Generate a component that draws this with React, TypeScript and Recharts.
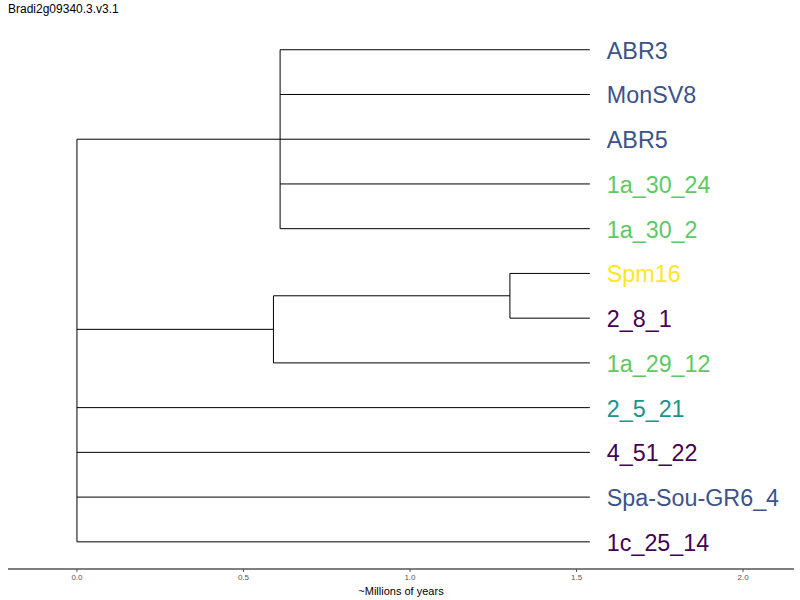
import React from "react";
import { ComposedChart, XAxis, YAxis, ReferenceLine, Scatter } from "recharts";

const leafNames = ["ABR3","MonSV8","ABR5","1a_30_24","1a_30_2","Spm16","2_8_1","1a_29_12","2_5_21","4_51_22","Spa-Sou-GR6_4","1c_25_14"];
const leafColors = ["#3b528b","#3b528b","#3b528b","#5ec962","#5ec962","#fde725","#440154","#5ec962","#21918c","#440154","#3b528b","#440154"];
const leafEnd = 1.54;
const xTicks = [0, 0.5, 1.0, 1.5, 2.0];
type Node = { id: string; x: number; children: (string | number)[] };
const nodes: Node[] = [
  { id: "root", x: 0, children: ["A", "B", 8, 9, 10, 11] },
  { id: "A", x: 0.61, children: [0, 1, 2, 3, 4] },
  { id: "B", x: 0.59, children: ["C", 7] },
  { id: "C", x: 1.3, children: [5, 6] },
];

const byId: Record<string, Node> = {};
nodes.forEach((n) => (byId[n.id] = n));
const yOf = (c: string | number): number =>
  typeof c === "number" ? c : byId[c].children.map(yOf).reduce((a, b) => a + b, 0) / byId[c].children.length;
const xOf = (c: string | number): number => (typeof c === "number" ? leafEnd : byId[c].x);

const segments: { x1: number; y1: number; x2: number; y2: number }[] = [];
nodes.forEach((n) => {
  const ys = n.children.map(yOf);
  segments.push({ x1: n.x, y1: Math.min(...ys), x2: n.x, y2: Math.max(...ys) });
  n.children.forEach((c) => segments.push({ x1: n.x, y1: yOf(c), x2: xOf(c), y2: yOf(c) }));
});
const leafData = leafNames.map((name, i) => ({ x: leafEnd, y: i, name, color: leafColors[i] }));

const LeafLabel = (p: any) => (
  <text x={p.cx + 17} y={p.cy + 1} dominantBaseline="central" fontSize={23.3} fill={p.payload.color}
    fontFamily="Liberation Sans, Arial, sans-serif">{p.payload.name}</text>
);

export default function App() {
  return (
    <div style={{ position: "absolute", left: 0, top: 0, width: 800, height: 600, background: "#fff", fontFamily: "Liberation Sans, Arial, sans-serif" }}>
      <div style={{ position: "absolute", left: 8, top: 2, fontSize: 12, color: "#000" }}>Bradi2g09340.3.v3.1</div>
      <ComposedChart width={800} height={600} margin={{ top: 5, right: 6, bottom: 0, left: 8 }}>
        <XAxis type="number" dataKey="x" domain={[-0.207, 2.153]} ticks={xTicks} allowDataOverflow
          tickFormatter={(v: number) => v.toFixed(1)} tick={{ fontSize: 8, fill: "#555" }}
          tickLine={{ stroke: "#555" }} tickSize={3} axisLine={{ stroke: "#000" }} height={31}
          label={{ value: "~Millions of years", position: "insideBottom", offset: 5, fontSize: 11, fill: "#000" }} />
        <YAxis type="number" dataKey="y" domain={[-1, 11.607]} reversed hide allowDataOverflow />
        {segments.map((s, i) => (
          <ReferenceLine key={i} segment={[{ x: s.x1, y: s.y1 }, { x: s.x2, y: s.y2 }]} stroke="#000" strokeWidth={1} ifOverflow="visible" />
        ))}
        <Scatter data={leafData} shape={LeafLabel} isAnimationActive={false} />
      </ComposedChart>
    </div>
  );
}
